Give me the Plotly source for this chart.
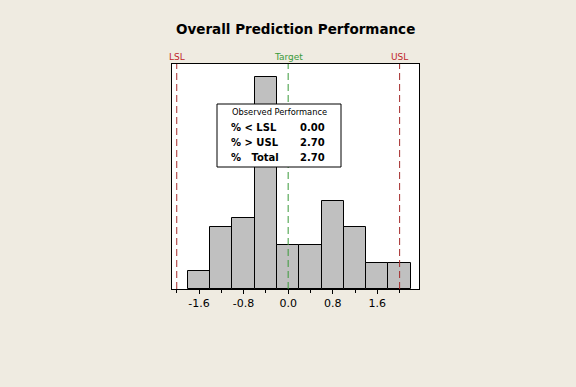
import plotly.graph_objects as go

# Data
bin_centers = [-1.6, -1.2, -0.8, -0.4, 0.0, 0.4, 0.8, 1.2, 1.6, 2.0]
counts = [2, 7, 8, 24, 5, 5, 10, 7, 3, 3]
bin_width = 0.4
lsl, target, usl = -2.0, 0.0, 2.0
tick_vals = [-1.6, -0.8, 0.0, 0.8, 1.6]
tick_text = ["-1.6", "-0.8", "0.0", "0.8", "1.6"]
perf_labels = ["% < LSL", "% > USL", "%   Total"]
perf_values = ["0.00", "2.70", "2.70"]

BG = "#EFEBE1"
FONT = "DejaVu Sans"

# plot area pixel geometry
W, H = 576, 387
L, R, T, B = 172, 419, 64, 289
pw, ph = R - L, B - T

def px(x):
    return (x - L) / pw

def py(y):
    return (B - y) / ph

fig = go.Figure()
fig.add_trace(go.Bar(
    x=bin_centers, y=counts, width=bin_width,
    marker=dict(color="#C0C0C0", line=dict(color="black", width=1)),
    hoverinfo="skip", showlegend=False,
))

shapes = []
for v, col in [(lsl, "#A52A2A"), (usl, "#A52A2A"), (target, "#3A9A3A")]:
    shapes.append(dict(type="line", xref="x", yref="paper", x0=v, x1=v, y0=0, y1=1,
                       line=dict(color=col, width=1, dash="7px,4px")))
# info box
shapes.append(dict(type="rect", xref="paper", yref="paper",
                   x0=px(217), x1=px(341), y0=py(104), y1=py(167),
                   fillcolor="white", line=dict(color="black", width=1), layer="above"))

annotations = [
    dict(text="<b>Overall Prediction Performance</b>", xref="paper", yref="paper",
         x=px(295), y=py(29), showarrow=False, font=dict(family=FONT, size=13.5, color="black"),
         xanchor="center", yanchor="middle"),
]
for v, name, col in [(lsl, "LSL", "#C0262A"), (target, "Target", "#3A9A3A"), (usl, "USL", "#C0262A")]:
    annotations.append(dict(text=name, xref="x", yref="paper", x=v, y=py(57), showarrow=False,
                            font=dict(family=FONT, size=9, color=col), xanchor="center", yanchor="middle"))
annotations.append(dict(text="Observed Performance", xref="paper", yref="paper", x=px(279), y=py(112.5),
                        showarrow=False, font=dict(family=FONT, size=8.3, color="black"),
                        xanchor="center", yanchor="middle"))
row_y = [127, 142, 157]
for lab, val, yy in zip(perf_labels, perf_values, row_y):
    annotations.append(dict(text="<b>" + lab + "</b>", xref="paper", yref="paper", x=px(229), y=py(yy),
                            showarrow=False, font=dict(family=FONT, size=10, color="black"),
                            xanchor="left", yanchor="middle"))
    annotations.append(dict(text="<b>" + val + "</b>", xref="paper", yref="paper", x=px(327), y=py(yy),
                            showarrow=False, font=dict(family=FONT, size=10, color="black"),
                            xanchor="right", yanchor="middle"))

fig.update_layout(
    width=W, height=H,
    margin=dict(l=L, r=W - R, t=T, b=H - B),
    paper_bgcolor=BG, plot_bgcolor="white",
    shapes=shapes, annotations=annotations,
    bargap=0,
    xaxis=dict(range=[-2.085, 2.348], tickvals=tick_vals, ticktext=tick_text,
               ticks="outside", ticklen=4, tickcolor="black", showgrid=False, zeroline=False,
               showline=True, linecolor="black", linewidth=1, mirror=True,
               tickfont=dict(family=FONT, size=11, color="black"),
               minor=dict(tickvals=[-2.0, -1.2, -0.4, 0.4, 1.2, 2.0], ticks="outside",
                          ticklen=3, tickcolor="black", showgrid=False)),
    yaxis=dict(range=[0, 25.5], showticklabels=False, ticks="", showgrid=False, zeroline=False,
               showline=True, linecolor="black", linewidth=1, mirror=True),
)

fig.write_html("out.html", config={"displayModeBar": False},
               post_script="document.body.style.margin='0';document.body.style.background='" + BG + "';")
